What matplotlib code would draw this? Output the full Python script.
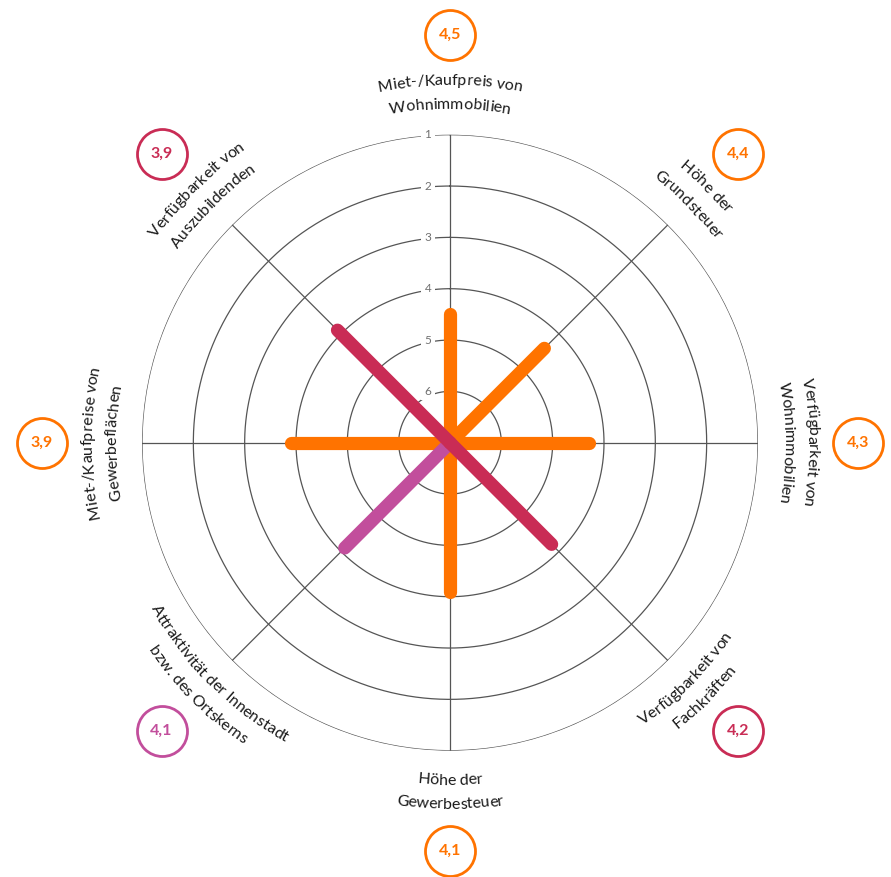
import numpy as np
import matplotlib.pyplot as plt
from matplotlib.font_manager import FontProperties
from matplotlib.transforms import offset_copy

# categories clockwise from the top
categories = [
    'Miet-/Kaufpreis von\nWohnimmobilien',
    'Höhe der\nGrundsteuer',
    'Verfügbarkeit von\nWohnimmobilien',
    'Verfügbarkeit von\nFachkräften',
    'Höhe der\nGewerbesteuer',
    'Attraktivität der Innenstadt\nbzw. des Ortskerns',
    'Miet-/Kaufpreise von\nGewerbeflächen',
    'Verfügbarkeit von\nAuszubildenden',
]
values = [4.5, 4.4, 4.3, 4.2, 4.1, 4.1, 3.9, 3.9]
value_labels = ['4,5', '4,4', '4,3', '4,2', '4,1', '4,1', '3,9', '3,9']
groups = ['standort', 'standort', 'standort', 'personal', 'standort', 'innenstadt', 'standort', 'personal']
ring_values = [1, 2, 3, 4, 5, 6]

colors = {'standort': '#FF7300', 'personal': '#C92C55', 'innenstadt': '#C24E9C'}
GRID = '#555555'
CENTER = 7  # scale value at the centre

plt.rcParams['font.family'] = ['Lato', 'DejaVu Sans']

fig = plt.figure(figsize=(8.91, 8.77), dpi=100)
cx, cy, R = 450, 877 - 442.7, 308
ax = fig.add_axes([(cx - R) / 891, (cy - R) / 877, 2 * R / 891, 2 * R / 877], projection='polar')
ax.set_theta_zero_location('N')
ax.set_theta_direction(-1)
ax.set_ylim(0, CENTER - 1)
ax.set_xticks([])
ax.set_yticks([])
ax.spines['polar'].set_visible(False)
ax.grid(False)
px = R / (CENTER - 1)  # pixels per scale unit

theta = np.deg2rad(np.arange(len(categories)) * 45)

# rings
t = np.linspace(0, 2 * np.pi, 400)
for v in ring_values:
    ax.plot(t, np.full_like(t, CENTER - v), color=GRID, lw=0.9, zorder=1)
# spokes
for th in theta:
    ax.plot([th, th], [0, CENTER - 1], color=GRID, lw=0.9, zorder=1)

# ring labels, just left of the vertical spoke
lab_tr = offset_copy(ax.transData, fig=fig, x=-22, y=0, units='dots')
for v in ring_values:
    ax.text(0, CENTER - v, str(v), transform=lab_tr, ha='center', va='center',
            fontsize=8.5, color='#707070', zorder=2,
            bbox=dict(boxstyle='square,pad=0.3', fc='white', ec='none'))

# bars: orange first, then pink, then crimson on top
order = {'standort': 3, 'innenstadt': 4, 'personal': 5}
for th, v, g in zip(theta, values, groups):
    ax.plot([th, th], [0, CENTER - v], color=colors[g], lw=9.5, solid_capstyle='round',
            zorder=order[g])

# curved category labels
renderer = fig.canvas.get_renderer()
prop = FontProperties(family=['Lato', 'DejaVu Sans'], size=11.5)


def text_width(s):
    if not s:
        return 0.0
    w, h, d = renderer.get_text_width_height_descent(s, prop, ismath=False)
    return w


def arc_text(line, ang, r_base, outward):
    # ang: clockwise from north (radians), r_base in pixels
    total = text_width(line)
    for i, ch in enumerate(line):
        if ch == ' ':
            continue
        s = (text_width(line[:i]) + text_width(line[:i + 1])) / 2 - total / 2
        if outward:
            phi = ang + s / r_base
            rot = -np.rad2deg(phi)
        else:
            phi = ang - s / r_base
            rot = 180 - np.rad2deg(phi)
        ax.text(phi, r_base / px, ch, fontproperties=prop, color='#1a1a1a',
                ha='center', va='baseline', rotation=rot, rotation_mode='anchor',
                clip_on=False)


line_gap = 24
for th, cat, lab, g in zip(theta, categories, value_labels, groups):
    deg = np.rad2deg(th) % 360
    outward = not (90 < deg < 270)
    lines = cat.split('\n')
    n = len(lines)
    for j, line in enumerate(lines):
        off = ((n - 1) / 2 - j) * line_gap
        if outward:
            r_mid = 350 + off
            arc_text(line, th, r_mid - 4, True)
        else:
            r_mid = 350 - off
            arc_text(line, th, r_mid + 4, False)

    ax.plot(th, 408 / px, 'o', ms=36, mfc='white', mec=colors[g], mew=2, clip_on=False, zorder=6)
    ax.text(th, 408 / px, lab, ha='center', va='center', fontsize=11.5, fontweight='bold',
            color=colors[g], clip_on=False, zorder=7)

fig.savefig('out.png', dpi=100)
